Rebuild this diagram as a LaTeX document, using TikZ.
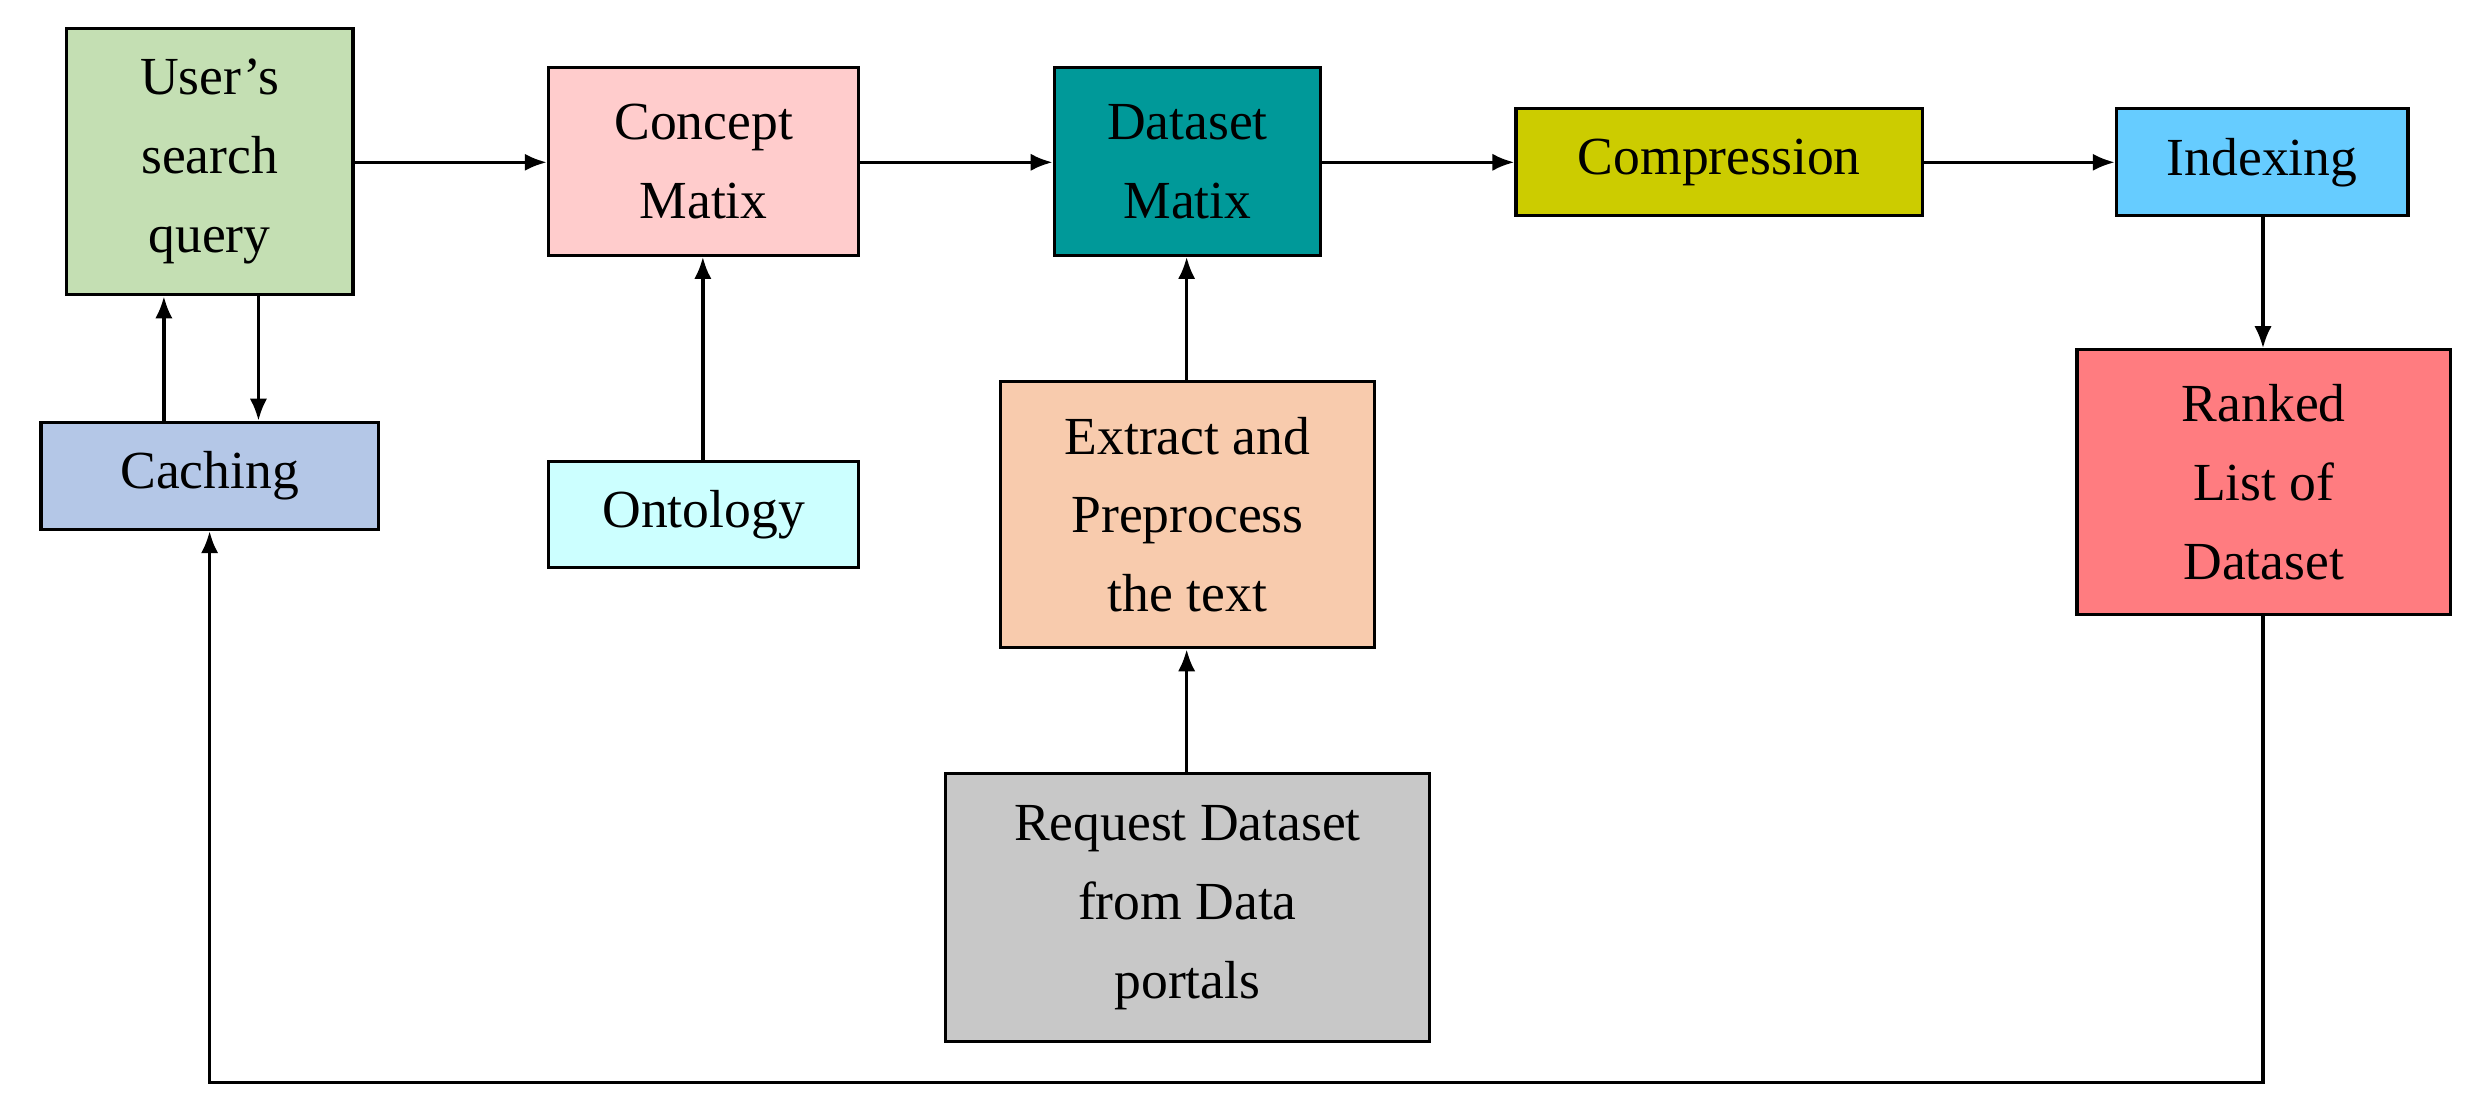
\documentclass[tikz,border=0pt]{standalone}
\usepackage{fontspec}
\setmainfont{Liberation Serif}
\usetikzlibrary{arrows.meta}
\begin{document}
\begin{tikzpicture}[x=1pt,y=-1pt,
 box/.style={draw,line width=2pt,inner sep=0pt,align=center,font=\fontsize{34}{50}\selectfont},
 arr/.style={line width=2.2pt,-{Latex[length=14pt,width=11pt]}}]
\useasboundingbox (0,0) rectangle (1568,708);
\definecolor{cU}{HTML}{C4DFB3}\definecolor{cC}{HTML}{B4C7E7}\definecolor{cP}{HTML}{FFCCCC}
\definecolor{cO}{HTML}{CCFFFF}\definecolor{cD}{HTML}{009999}\definecolor{cE}{HTML}{F8CBAD}
\definecolor{cR}{HTML}{C8C8C8}\definecolor{cM}{HTML}{CCCC00}\definecolor{cI}{HTML}{66CCFF}
\definecolor{cK}{HTML}{FF7C80}
\newcommand{\bx}[7]{\node[box,fill=#6,minimum width={#3-#2},minimum height={#5-#4}] (#1) at ({(#2+#3)/2},{(#4+#5)/2}) {#7};}
\bx{user}{42}{224}{18}{187}{cU}{User's\\search\\query}
\bx{cach}{26}{240}{268}{336}{cC}{Caching}
\bx{conc}{348}{545}{43}{162}{cP}{Concept\\Matix}
\bx{onto}{348}{545}{293}{360}{cO}{Ontology}
\bx{data}{669}{838}{43}{162}{cD}{Dataset\\Matix}
\bx{extr}{635}{872}{242}{411}{cE}{Extract and\\Preprocess\\the text}
\bx{requ}{600}{907}{491}{661}{cR}{Request Dataset\\from Data\\portals}
\bx{comp}{962}{1220}{69}{137}{cM}{Compression}
\bx{inde}{1343}{1528}{69}{137}{cI}{Indexing}
\bx{rank}{1318}{1555}{222}{390}{cK}{Ranked\\List of\\Dataset}
\draw[arr] (user.east|-0,103) -- (conc.west|-0,103);
\draw[arr] (conc.east|-0,103) -- (data.west|-0,103);
\draw[arr] (data.east|-0,103) -- (comp.west|-0,103);
\draw[arr] (comp.east|-0,103) -- (inde.west|-0,103);
\draw[arr] (inde.south-|1436,0) -- (rank.north-|1436,0);
\draw[arr] (onto.north-|446,0) -- (conc.south-|446,0);
\draw[arr] (extr.north-|753,0) -- (data.south-|753,0);
\draw[arr] (requ.north-|753,0) -- (extr.south-|753,0);
\draw[arr] (cach.north-|104,0) -- (user.south-|104,0);
\draw[arr] (user.south-|164,0) -- (cach.north-|164,0);
\draw[arr] (rank.south-|1436,0) -- (1436,687) -- (133,687) -- (cach.south-|133,0);
\end{tikzpicture}
\end{document}
